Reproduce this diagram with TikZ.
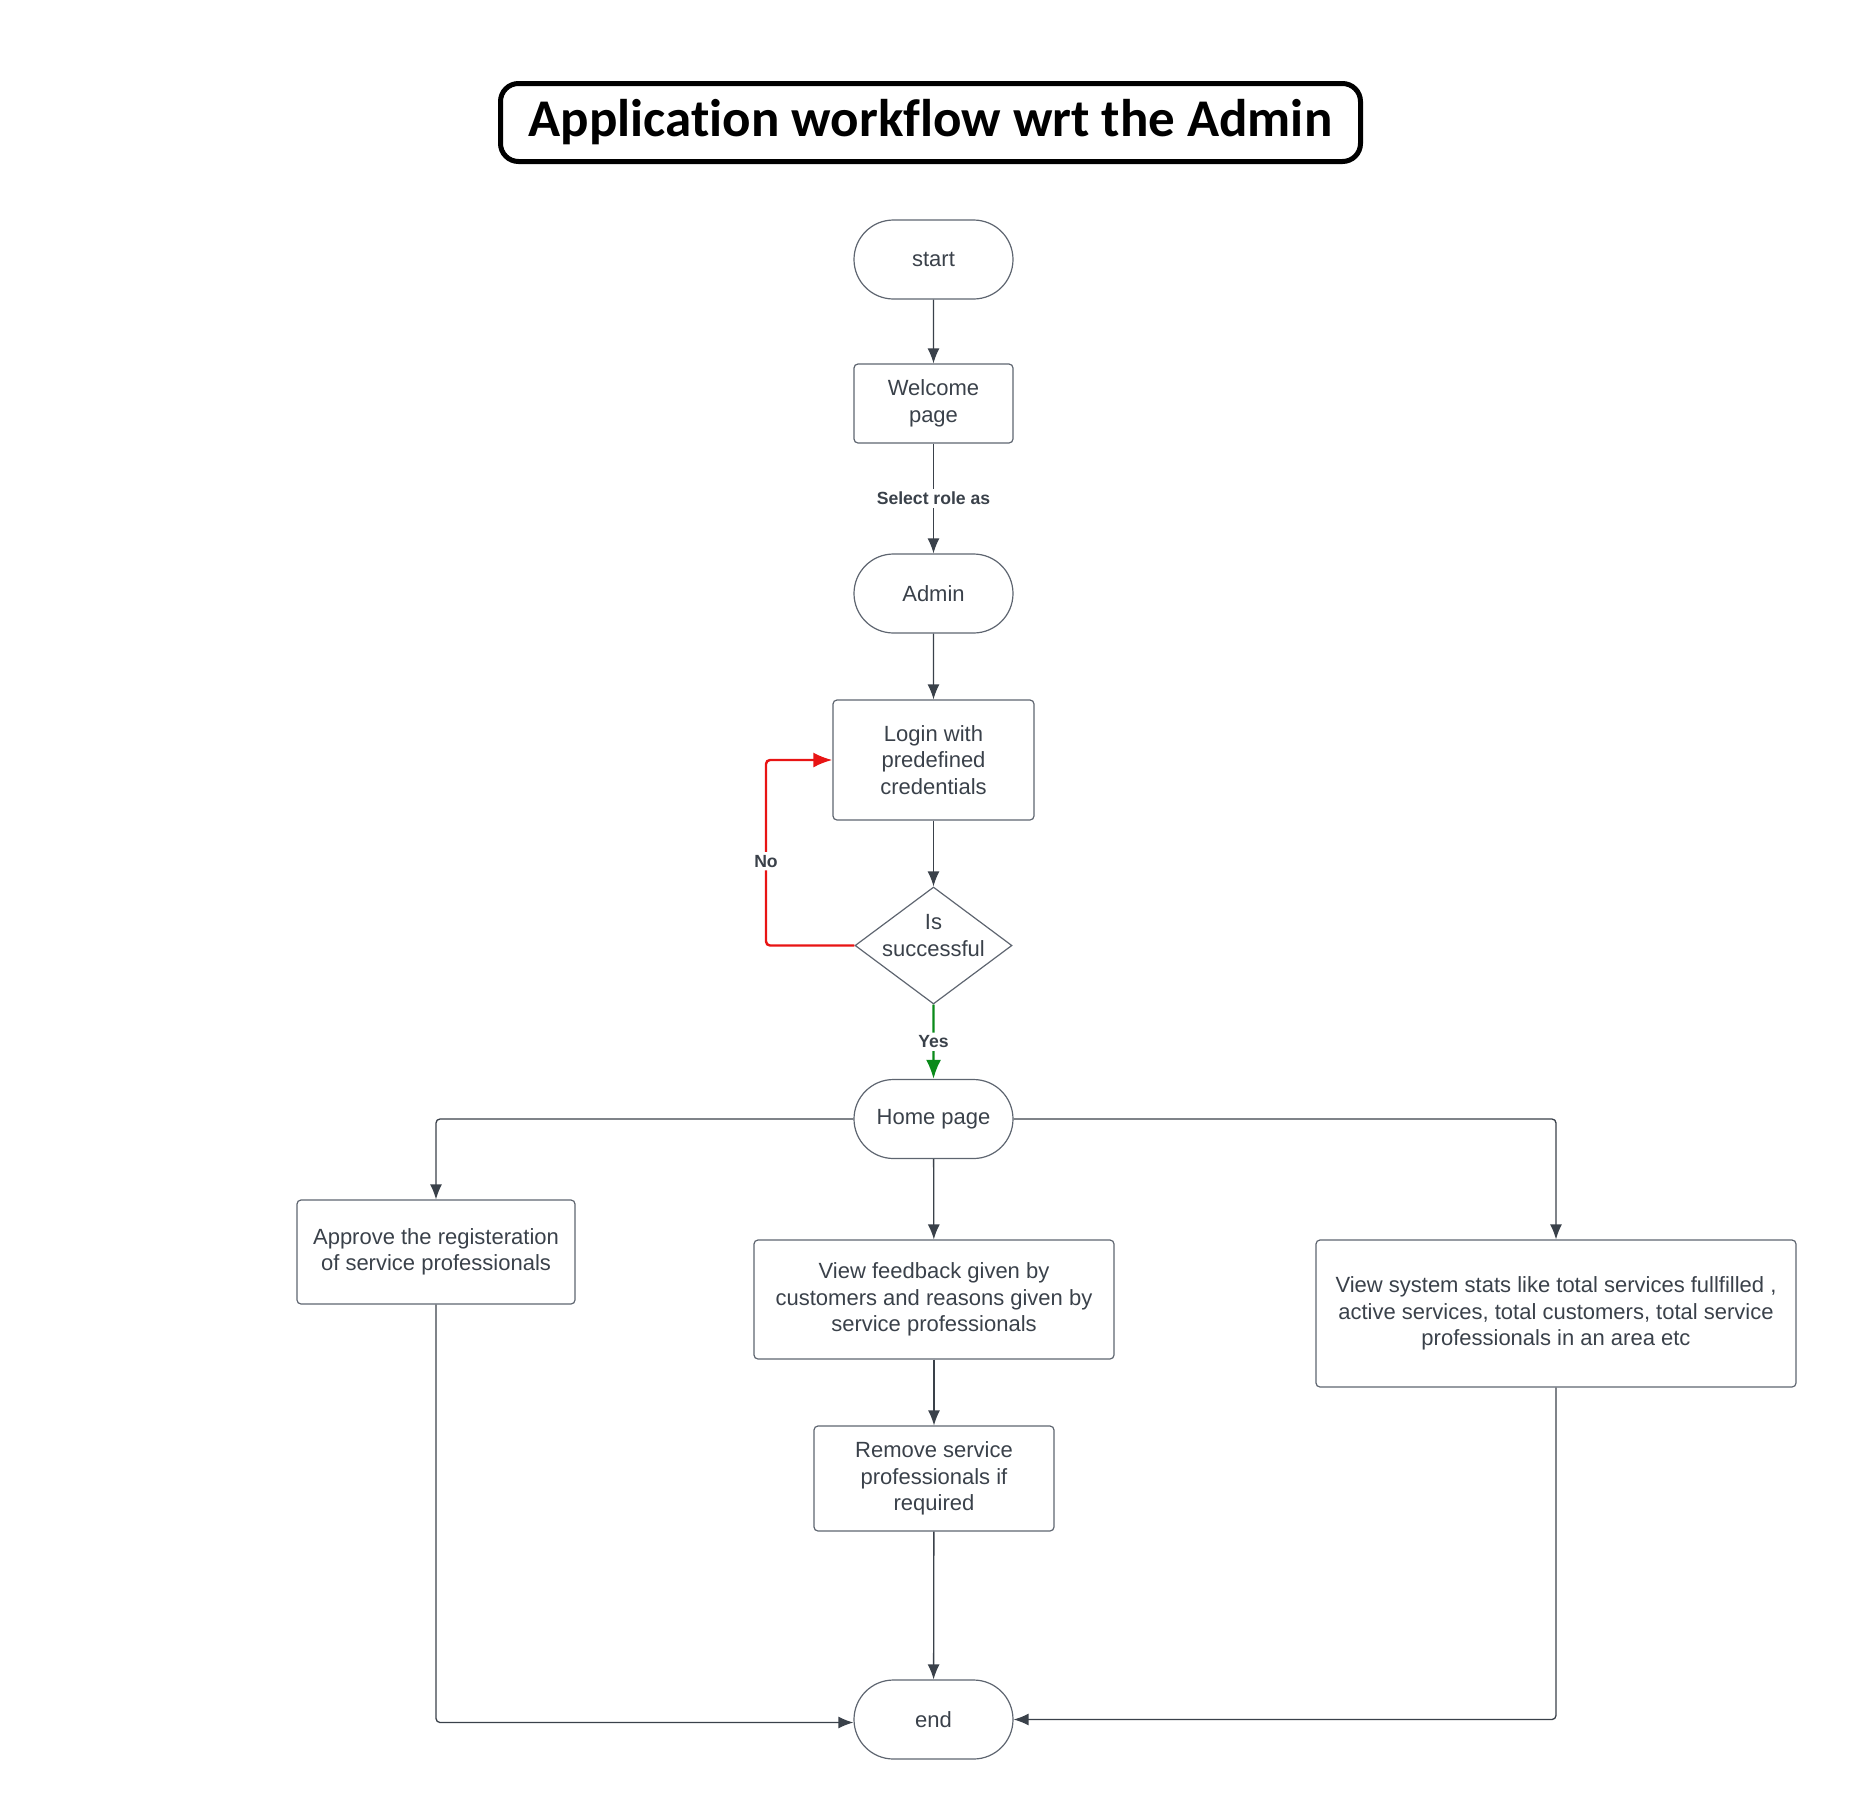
\documentclass[tikz,border=0pt]{standalone}
\usepackage{fontspec}
\setmainfont{Liberation Sans}
\newfontfamily\titlefont[Ligatures=NoCommon]{Carlito}
\usetikzlibrary{arrows.meta,shapes.geometric,shapes.misc}

\definecolor{inkgray}{HTML}{3A414A}
\definecolor{boxgray}{HTML}{5E6570}
\definecolor{loopred}{HTML}{E81414}
\definecolor{yesgreen}{HTML}{0A8A1A}

\begin{document}
\begin{tikzpicture}[>={Latex[length=7.5pt,width=6pt]},
		x=0.5pt, y=-0.5pt,
		txt/.style = {text=inkgray, font=\fontsize{11}{13.2}\selectfont, align=center, inner sep=0pt},
		terminal/.style = {txt, draw=boxgray, line width=0.6pt, rounded rectangle, minimum width=79.5pt, minimum height=39.5pt},
		process/.style = {txt, draw=boxgray, line width=0.6pt, rectangle, rounded corners=2pt},
		decision/.style = {draw=boxgray, line width=0.6pt, diamond, inner sep=0pt, minimum width=78.5pt, minimum height=58.5pt},
		flow/.style = {->, inkgray, line width=0.65pt, rounded corners=2pt},
		answer/.style = {-{Latex[length=9.5pt,width=7.5pt]}, line width=1.2pt, rounded corners=2pt},
		edge_label/.style = {fill=white, text=inkgray, font=\fontsize{8.8}{10}\selectfont\bfseries, inner sep=1.5pt}
	]

	\useasboundingbox (0,0) rectangle (1876,1800);

	\node[draw=black, line width=2.5pt, rounded corners=9pt, minimum width=430pt, minimum height=39pt,
		font=\titlefont\bfseries\fontsize{26.5}{30}\selectfont] (title) at (930.5,122.5)
		{Application workflow wrt the Admin};

	\node[terminal] (start) at (933.5,259.5) {start};
	\node[process, minimum width=79.5pt, minimum height=39.5pt] (welcome) at (933.5,403.5) {Welcome\\page};
	\node[terminal] (admin) at (933.5,593.5) {Admin};
	\node[process, minimum width=100.5pt, minimum height=60pt] (login) at (933.5,760) {Login with\\predefined\\credentials};
	\node[decision, label={[txt, yshift=5pt]center:{Is\\successful}}] (check) at (933.5,945.5) {};
	\node[terminal] (home) at (933.5,1119) {Home page};
	\node[process, minimum width=139pt, minimum height=52pt] (approve) at (436,1252)
		{Approve the registeration\\of service professionals};
	\node[process, minimum width=180pt, minimum height=59.5pt] (feedback) at (934,1299.5)
		{View feedback given by\\customers and reasons given by\\service professionals};
	\node[process, minimum width=240pt, minimum height=73.5pt] (stats) at (1556,1313.5)
		{View system stats like total services fullfilled ,\\active services, total customers, total service\\professionals in an area etc};
	\node[process, minimum width=120pt, minimum height=52.5pt] (remove) at (934,1478.5)
		{Remove service\\professionals if\\required};
	\node[terminal] (stop) at (933.5,1719.5) {end};

	\coordinate (noturn) at (766,945.5);

	\draw[flow] (start) -- (welcome);
	\draw[flow] (welcome) -- node[edge_label] {Select role as} (admin);
	\draw[flow] (admin) -- (login);
	\draw[flow] (login) -- (check);
	\draw[answer, loopred] (check.west) -- (noturn)
		|- node[edge_label, pos=0.227] {No} (login.west);
	\draw[answer, yesgreen] (check) -- node[edge_label] {Yes} (home);
	\draw[flow] (home) -| (approve);
	\draw[flow] (home) -- (feedback);
	\draw[flow] (home) -| (stats);
	\draw[flow] (feedback) -- (remove);
	\draw[flow] (remove) -- (stop);
	\draw[flow] (approve) |- ([yshift=-1.5pt]stop.west);
	\draw[flow] (stats) |- (stop);
\end{tikzpicture}
\end{document}
